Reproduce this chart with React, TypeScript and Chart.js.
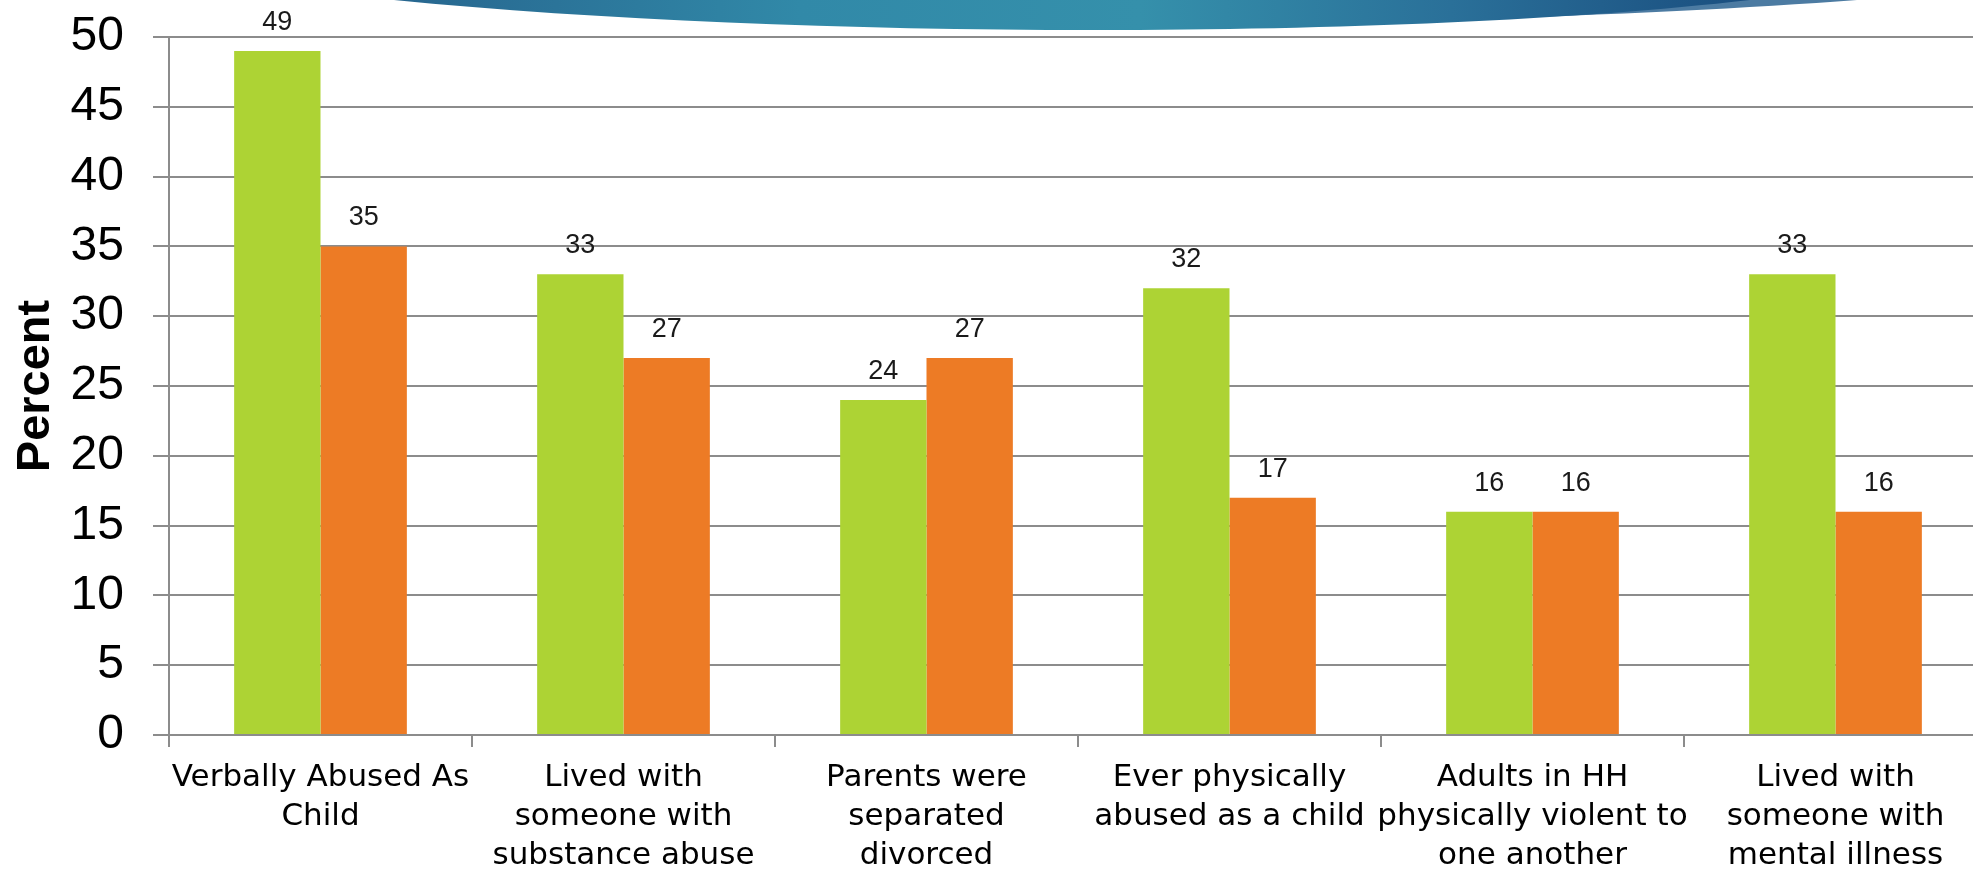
import React, { useEffect, useRef } from "react";
import { Chart, registerables } from "chart.js";

Chart.register(...registerables);

const categories: string[][] = [
  ["Verbally Abused As", "Child"],
  ["Lived with", "someone with", "substance abuse"],
  ["Parents were", "separated", "divorced"],
  ["Ever physically", "abused as a child"],
  ["Adults in HH", "physically violent to", "one another"],
  ["Lived with", "someone with", "mental illness"],
];
const seriesGreen: number[] = [49, 33, 24, 32, 16, 33];
const seriesOrange: number[] = [35, 27, 27, 17, 16, 16];
const yTickMin = 0;
const yTickMax = 50;
const yTickStep = 5;

const GREEN = "#add334";
const ORANGE = "#ed7b25";
const GRID = "#8c8c8c";

const swooshPlugin = {
  id: "swoosh",
  beforeDraw(chart: any) {
    const ctx = chart.ctx;
    ctx.save();
    // lighter back sliver
    ctx.beginPath();
    ctx.moveTo(1450, 0);
    ctx.lineTo(1450, 20);
    ctx.quadraticCurveTo(1700, 12, 1857, 0);
    ctx.closePath();
    ctx.fillStyle = "#4c7ba2";
    ctx.fill();
    // main swoosh
    const g = ctx.createLinearGradient(394, 0, 1750, 0);
    g.addColorStop(0, "#27668f");
    g.addColorStop(0.3, "#3189a8");
    g.addColorStop(0.55, "#3590ab");
    g.addColorStop(0.78, "#2a7099");
    g.addColorStop(1, "#1a4e7f");
    ctx.beginPath();
    ctx.moveTo(394, 0);
    ctx.bezierCurveTo(800, 40, 1400, 40, 1750, 0);
    ctx.closePath();
    ctx.fillStyle = g;
    ctx.fill();
    ctx.restore();
  },
};

const valueLabelPlugin = {
  id: "valueLabels",
  afterDatasetsDraw(chart: any) {
    const ctx = chart.ctx;
    ctx.save();
    ctx.font = "27px 'Liberation Sans', Arial, sans-serif";
    ctx.fillStyle = "#1a1a1a";
    ctx.textAlign = "center";
    ctx.textBaseline = "alphabetic";
    chart.data.datasets.forEach((ds: any, i: number) => {
      const meta = chart.getDatasetMeta(i);
      meta.data.forEach((bar: any, j: number) => {
        ctx.fillText(String(ds.data[j]), bar.x, bar.y - 21);
      });
    });
    ctx.restore();
  },
};

export default function App() {
  const canvasRef = useRef<HTMLCanvasElement | null>(null);

  useEffect(() => {
    const canvas = canvasRef.current;
    if (!canvas) return;
    const chart = new Chart(canvas, {
      type: "bar",
      data: {
        labels: categories,
        datasets: [
          {
            label: "Series 1",
            data: seriesGreen,
            backgroundColor: GREEN,
            borderWidth: 0,
            categoryPercentage: 0.57,
            barPercentage: 1.0,
          },
          {
            label: "Series 2",
            data: seriesOrange,
            backgroundColor: ORANGE,
            borderWidth: 0,
            categoryPercentage: 0.57,
            barPercentage: 1.0,
          },
        ],
      },
      options: {
        responsive: false,
        animation: false,
        devicePixelRatio: 1,
        layout: { padding: { top: 37, right: 3, bottom: 0, left: 0 } },
        plugins: {
          legend: { display: false },
          tooltip: { enabled: false },
          title: { display: false },
        },
        scales: {
          x: {
            offset: true,
            grid: {
              offset: true,
              drawOnChartArea: false,
              drawTicks: true,
              tickLength: 12,
              color: GRID,
              lineWidth: 2,
            },
            border: { display: true, color: GRID, width: 2 },
            ticks: {
              autoSkip: false,
              maxRotation: 0,
              minRotation: 0,
              padding: 11,
              color: "#000",
              font: { family: "'DejaVu Sans', sans-serif", size: 31, lineHeight: 1.258 },
            },
            afterFit(scale: any) {
              scale.height = 139;
              scale.paddingLeft = 0;
              scale.paddingRight = 0;
            },
          },
          y: {
            min: yTickMin,
            max: yTickMax,
            grid: {
              color: GRID,
              lineWidth: 2,
              drawTicks: true,
              tickLength: 16,
            },
            border: { display: true, color: GRID, width: 2 },
            ticks: {
              stepSize: yTickStep,
              padding: 29,
              color: "#000",
              font: { family: "'Liberation Sans', Arial, sans-serif", size: 48 },
            },
            title: {
              display: true,
              text: "Percent",
              color: "#000",
              padding: { top: 8, bottom: 0 },
              font: { family: "'Liberation Sans', Arial, sans-serif", size: 47, weight: "bold" },
            },
            afterFit(scale: any) {
              scale.width = 169;
              scale.paddingTop = 0;
              scale.paddingBottom = 0;
            },
          },
        },
      },
      plugins: [swooshPlugin, valueLabelPlugin],
    } as any);
    return () => chart.destroy();
  }, []);

  return (
    <div
      style={{
        position: "fixed",
        left: 0,
        top: 0,
        width: "100vw",
        height: "100vh",
        overflow: "hidden",
        background: "#fff",
      }}
    >
      <canvas
        ref={canvasRef}
        width={1990}
        height={874}
        style={{ display: "block", width: 1990, height: 874 }}
      />
    </div>
  );
}
